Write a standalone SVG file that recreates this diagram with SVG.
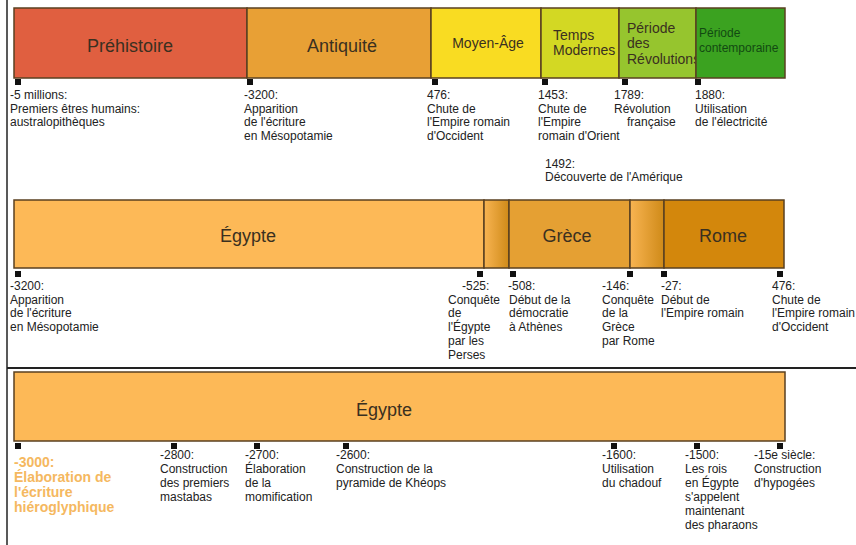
<svg xmlns="http://www.w3.org/2000/svg" width="856" height="545" viewBox="0 0 856 545">
<defs>
<style>
text{font-family:"Liberation Sans",Arial,sans-serif;}
.bar{stroke:#5a4020;stroke-width:1.5;}
.big{font-size:18px;fill:#3a3020;text-anchor:middle;}
.mid{font-size:14px;fill:#3a3020;}
.sm{font-size:12px;fill:#222;}
.or{font-size:14px;font-weight:bold;fill:#F5B860;}
.mk{fill:#111;}
.sep{stroke:#222;fill:none;}
</style>
<linearGradient id="trans" x1="0" y1="0" x2="1" y2="0">
<stop offset="0" stop-color="#F8B452"/>
<stop offset="1" stop-color="#CF8A18"/>
</linearGradient>
</defs>
<rect width="856" height="545" fill="#fff"/>

<g id="frame">
<line class="sep" x1="7" y1="0" x2="7" y2="545" stroke-width="1.5"/>
<line class="sep" x1="7" y1="368" x2="856" y2="368" stroke-width="2"/>
</g>

<!-- Top timeline -->
<g id="prehistoire">
<rect class="bar" x="14" y="8" width="233" height="70" fill="#E05F40"/>
<text class="big" x="130" y="52">Préhistoire</text>
</g>
<g id="antiquite">
<rect class="bar" x="247" y="8" width="184" height="70" fill="#E8A035"/>
<text class="big" x="342" y="52">Antiquité</text>
</g>
<g id="moyen-age">
<rect class="bar" x="431" y="8" width="110" height="70" fill="#F9DC22"/>
<text class="mid" x="488" y="48" text-anchor="middle">Moyen-Âge</text>
</g>
<g id="temps-modernes">
<rect class="bar" x="541" y="8" width="78" height="70" fill="#D3D823"/>
<text class="mid" x="553" y="40">Temps</text>
<text class="mid" x="553" y="55">Modernes</text>
</g>
<g id="periode-revolutions">
<rect class="bar" x="619" y="8" width="77" height="70" fill="#96C52E"/>
<text class="mid" x="627" y="33">Période</text>
<text class="mid" x="627" y="48">des</text>
<text class="mid" x="627" y="64">Révolutions</text>
</g>
<g id="periode-contemporaine">
<rect class="bar" x="696" y="8" width="89" height="70" fill="#3BA220"/>
<text x="699" y="37" font-size="12" fill="#124a12">Période</text>
<text x="699" y="52" font-size="12" fill="#124a12">contemporaine</text>
</g>

<g id="ev-5millions">
<rect class="mk" x="15" y="79" width="6" height="6"/>
<text class="sm" x="10" y="99">-5 millions:</text>
<text class="sm" x="10" y="112.5">Premiers êtres humains:</text>
<text class="sm" x="10" y="126">australopithèques</text>
</g>
<g id="ev-3200-top">
<rect class="mk" x="247" y="79" width="6" height="6"/>
<text class="sm" x="244" y="99">-3200:</text>
<text class="sm" x="244" y="112.5">Apparition</text>
<text class="sm" x="244" y="126">de l'écriture</text>
<text class="sm" x="244" y="139.5">en Mésopotamie</text>
</g>
<g id="ev-476-top">
<rect class="mk" x="432" y="79" width="6" height="6"/>
<text class="sm" x="427" y="99">476:</text>
<text class="sm" x="427" y="112.5">Chute de</text>
<text class="sm" x="427" y="126">l'Empire romain</text>
<text class="sm" x="427" y="139.5">d'Occident</text>
</g>
<g id="ev-1453">
<rect class="mk" x="542" y="79" width="6" height="6"/>
<text class="sm" x="538" y="99">1453:</text>
<text class="sm" x="538" y="112.5">Chute de</text>
<text class="sm" x="538" y="126">l'Empire</text>
<text class="sm" x="538" y="139.5">romain d'Orient</text>
</g>
<g id="ev-1492">
<text class="sm" x="545" y="167.5">1492:</text>
<text class="sm" x="545" y="181">Découverte de l'Amérique</text>
</g>
<g id="ev-1789">
<rect class="mk" x="622" y="79" width="6" height="6"/>
<text class="sm" x="614" y="99">1789:</text>
<text class="sm" x="614" y="112.5">Révolution</text>
<text class="sm" x="627" y="126">française</text>
</g>
<g id="ev-1880">
<rect class="mk" x="695" y="79" width="6" height="6"/>
<text class="sm" x="695" y="99">1880:</text>
<text class="sm" x="695" y="112.5">Utilisation</text>
<text class="sm" x="695" y="126">de l'électricité</text>
</g>

<!-- Middle timeline -->
<g id="egypte-mid">
<rect class="bar" x="14" y="200" width="470" height="68" fill="#FDB957"/>
<text class="big" x="248" y="242">Égypte</text>
</g>
<g id="transition-1">
<rect class="bar" x="484" y="200" width="25" height="68" fill="url(#trans)"/>
</g>
<g id="grece">
<rect class="bar" x="509" y="200" width="121" height="68" fill="#E5A033"/>
<text class="big" x="567" y="242">Grèce</text>
</g>
<g id="transition-2">
<rect class="bar" x="630" y="200" width="34" height="68" fill="url(#trans)"/>
</g>
<g id="rome">
<rect class="bar" x="664" y="200" width="120" height="68" fill="#D3870C"/>
<text class="big" x="723" y="242">Rome</text>
</g>

<g id="ev-3200-mid">
<rect class="mk" x="15" y="271" width="6" height="6"/>
<text class="sm" x="10" y="290">-3200:</text>
<text class="sm" x="10" y="303.7">Apparition</text>
<text class="sm" x="10" y="317.4">de l'écriture</text>
<text class="sm" x="10" y="331.1">en Mésopotamie</text>
</g>
<g id="ev-525">
<rect class="mk" x="477" y="271" width="6" height="6"/>
<text class="sm" x="462" y="290">-525:</text>
<text class="sm" x="448" y="303.7">Conquête</text>
<text class="sm" x="448" y="317.4">de</text>
<text class="sm" x="448" y="331.1">l'Égypte</text>
<text class="sm" x="448" y="344.8">par les</text>
<text class="sm" x="448" y="358.5">Perses</text>
</g>
<g id="ev-508">
<rect class="mk" x="510" y="271" width="6" height="6"/>
<text class="sm" x="508" y="290">-508:</text>
<text class="sm" x="509" y="303.7">Début de la</text>
<text class="sm" x="509" y="317.4">démocratie</text>
<text class="sm" x="509" y="331.1">à Athènes</text>
</g>
<g id="ev-146">
<rect class="mk" x="627" y="271" width="6" height="6"/>
<text class="sm" x="602" y="290">-146:</text>
<text class="sm" x="602" y="303.7">Conquête</text>
<text class="sm" x="602" y="317.4">de la</text>
<text class="sm" x="602" y="331.1">Grèce</text>
<text class="sm" x="602" y="344.8">par Rome</text>
</g>
<g id="ev-27">
<rect class="mk" x="661" y="271" width="6" height="6"/>
<text class="sm" x="661" y="290">-27:</text>
<text class="sm" x="661" y="303.7">Début de</text>
<text class="sm" x="661" y="317.4">l'Empire romain</text>
</g>
<g id="ev-476-mid">
<rect class="mk" x="777" y="271" width="6" height="6"/>
<text class="sm" x="772" y="290">476:</text>
<text class="sm" x="772" y="303.7">Chute de</text>
<text class="sm" x="772" y="317.4">l'Empire romain</text>
<text class="sm" x="772" y="331.1">d'Occident</text>
</g>

<!-- Bottom timeline -->
<g id="egypte-bottom">
<rect class="bar" x="14" y="372" width="771" height="69" fill="#FDB957"/>
<text class="big" x="384" y="416">Égypte</text>
</g>

<g id="ev-3000">
<rect class="mk" x="15" y="443" width="6" height="6"/>
<text class="or" x="14" y="467">-3000:</text>
<text class="or" x="14" y="482">Élaboration de</text>
<text class="or" x="14" y="497">l'écriture</text>
<text class="or" x="14" y="512">hiéroglyphique</text>
</g>
<g id="ev-2800">
<rect class="mk" x="171" y="443" width="6" height="6"/>
<text class="sm" x="160" y="459">-2800:</text>
<text class="sm" x="160" y="473">Construction</text>
<text class="sm" x="160" y="487">des premiers</text>
<text class="sm" x="160" y="501">mastabas</text>
</g>
<g id="ev-2700">
<rect class="mk" x="254" y="443" width="6" height="6"/>
<text class="sm" x="245" y="459">-2700:</text>
<text class="sm" x="245" y="473">Élaboration</text>
<text class="sm" x="245" y="487">de la</text>
<text class="sm" x="245" y="501">momification</text>
</g>
<g id="ev-2600">
<rect class="mk" x="343" y="443" width="6" height="6"/>
<text class="sm" x="336" y="459">-2600:</text>
<text class="sm" x="336" y="473">Construction de la</text>
<text class="sm" x="336" y="487">pyramide de Khéops</text>
</g>
<g id="ev-1600">
<rect class="mk" x="611" y="443" width="6" height="6"/>
<text class="sm" x="602" y="459">-1600:</text>
<text class="sm" x="602" y="473">Utilisation</text>
<text class="sm" x="602" y="487">du chadouf</text>
</g>
<g id="ev-1500">
<rect class="mk" x="694" y="443" width="6" height="6"/>
<text class="sm" x="685" y="459">-1500:</text>
<text class="sm" x="685" y="473">Les rois</text>
<text class="sm" x="685" y="487">en Égypte</text>
<text class="sm" x="685" y="501">s'appelent</text>
<text class="sm" x="685" y="515">maintenant</text>
<text class="sm" x="685" y="529">des pharaons</text>
</g>
<g id="ev-15e">
<rect class="mk" x="777" y="443" width="6" height="6"/>
<text class="sm" x="754" y="459">-15e siècle:</text>
<text class="sm" x="754" y="473">Construction</text>
<text class="sm" x="754" y="487">d'hypogées</text>
</g>

<g id="connectors"></g>
</svg>
